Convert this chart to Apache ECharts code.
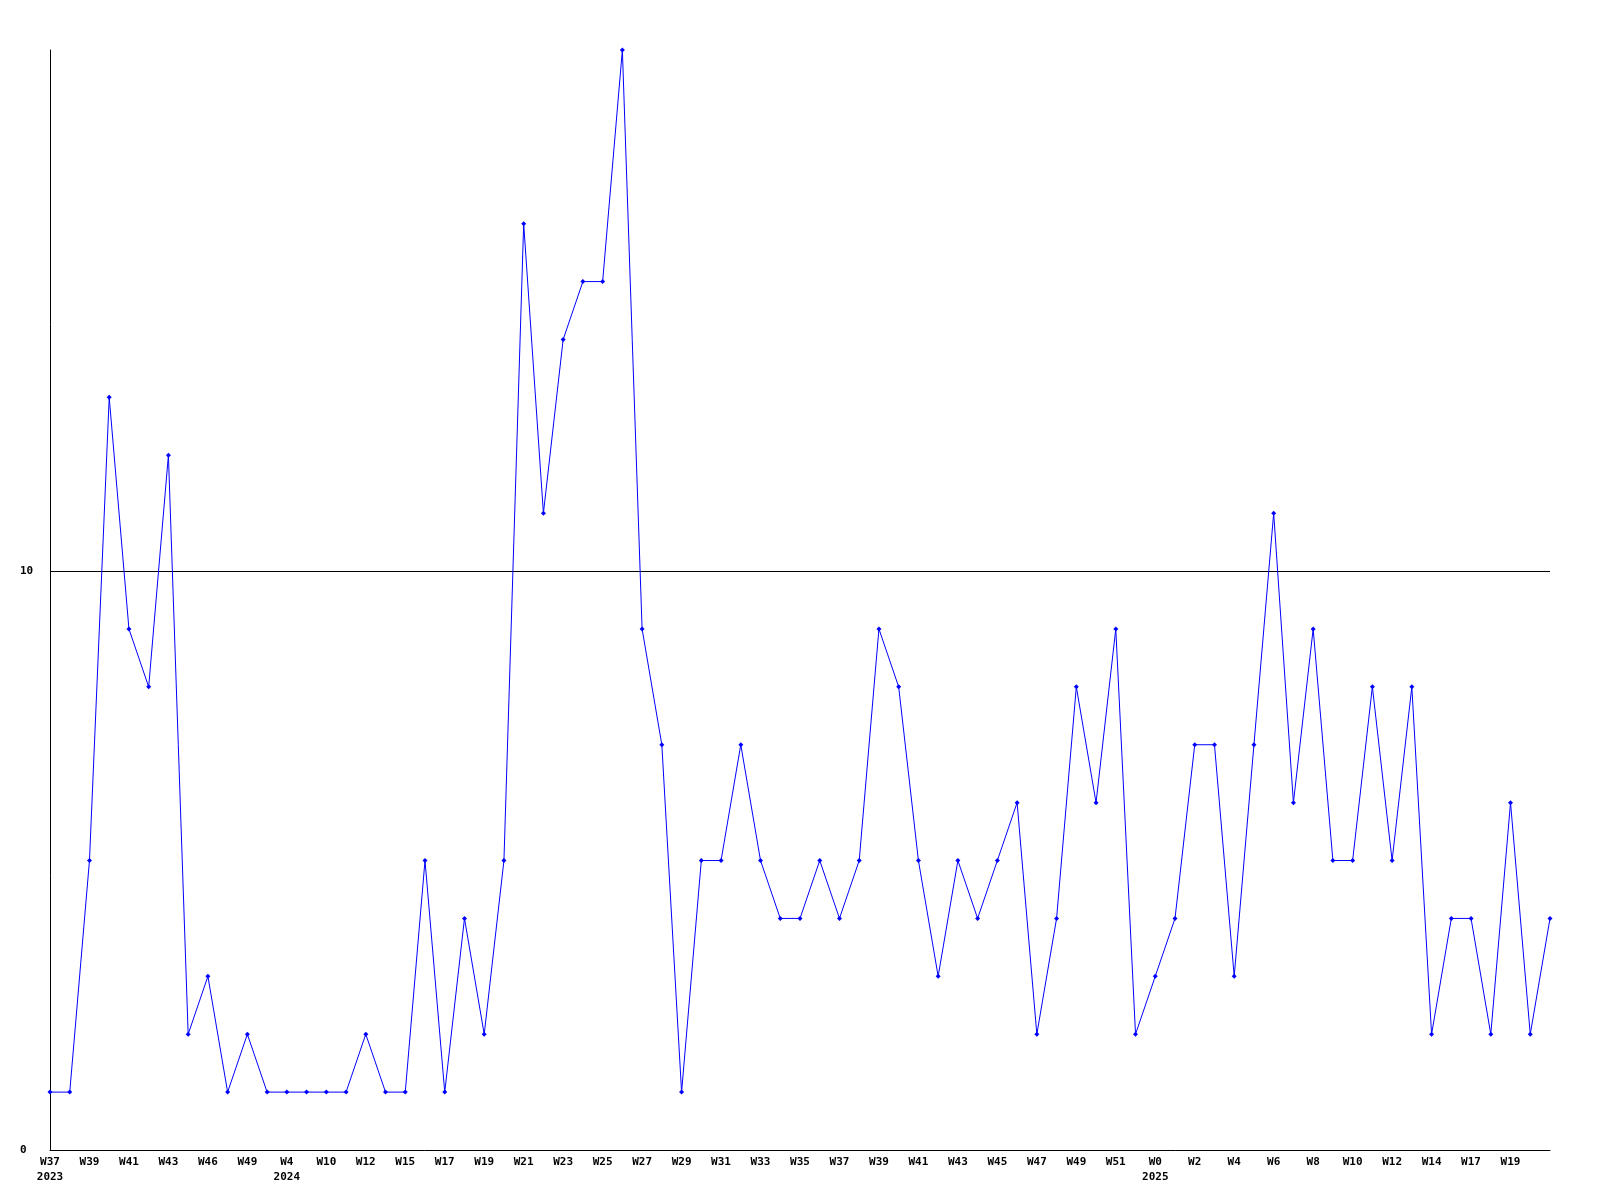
<!DOCTYPE html>
<html>
<head>
<meta charset="utf-8">
<script src="https://cdn.jsdelivr.net/npm/echarts@6/dist/echarts.min.js"></script>
<style>html,body{margin:0;padding:0;background:#fff}#c{width:1600px;height:1200px}</style>
</head>
<body>
<div id="c"></div>
<script>
const weeks = ["W37","W38","W39","W40","W41","W42","W43","W45","W46","W48","W49","W52",
  "W4","W7","W10","W11","W12","W14","W15","W16","W17","W18","W19","W20",
  "W21","W22","W23","W24","W25","W26","W27","W28","W29","W30","W31","W32",
  "W33","W34","W35","W36","W37","W38","W39","W40","W41","W42","W43","W44",
  "W45","W46","W47","W48","W49","W50","W51","W52","W0","W1","W2","W3",
  "W4","W5","W6","W7","W8","W9","W10","W11","W12","W13","W14","W16",
  "W17","W18","W19","W20","W21"];
const years = {0: "2023", 12: "2024", 56: "2025"};
const values = [1,1,5,13,9,8,12,2,3,1,2,1,
  1,1,1,1,2,1,1,5,1,4,2,5,
  16,11,14,15,15,19,9,7,1,5,5,7,
  5,4,4,5,4,5,9,8,5,3,5,4,
  5,6,2,4,8,6,9,2,3,4,7,7,
  3,7,11,6,9,5,5,8,5,8,2,4,
  4,2,6,2,4];
const yTicks = [0, 10];

const categories = weeks.map((w, i) => years[i] ? w + "\n" + years[i] : w);
const font = 'DejaVu Sans Mono';
const chart = echarts.init(document.getElementById('c'), null, {renderer: 'canvas'});
chart.setOption({
  animation: false,
  backgroundColor: '#fff',
  grid: {left: 50, right: 50, top: 50, bottom: 50, containLabel: false},
  xAxis: {
    type: 'category',
    data: categories,
    boundaryGap: false,
    axisLine: {lineStyle: {color: '#000', width: 1}},
    axisTick: {show: false},
    splitLine: {show: false},
    axisLabel: {
      interval: (i) => i % 2 === 0 && i < categories.length - 1,
      margin: 5,
      color: '#000',
      fontFamily: font,
      fontWeight: 'bold',
      fontSize: 11,
      lineHeight: 15
    }
  },
  yAxis: {
    type: 'value',
    min: 0,
    max: 19,
    interval: 10,
    axisLine: {show: true, lineStyle: {color: '#000', width: 1}},
    axisTick: {show: false},
    splitLine: {show: true, lineStyle: {color: ['transparent', '#000', 'transparent'], width: 1}},
    axisLabel: {
      showMaxLabel: false,
      align: 'left',
      margin: 30,
      color: '#000',
      fontFamily: font,
      fontWeight: 'bold',
      fontSize: 11,
      formatter: v => yTicks.includes(v) ? String(v) : ''
    }
  },
  series: [{
    type: 'line',
    data: values,
    symbol: 'diamond',
    symbolSize: 5,
    showAllSymbol: true,
    lineStyle: {color: '#0000ff', width: 1},
    itemStyle: {color: '#0000ff'}
  }]
});
</script>
</body>
</html>
